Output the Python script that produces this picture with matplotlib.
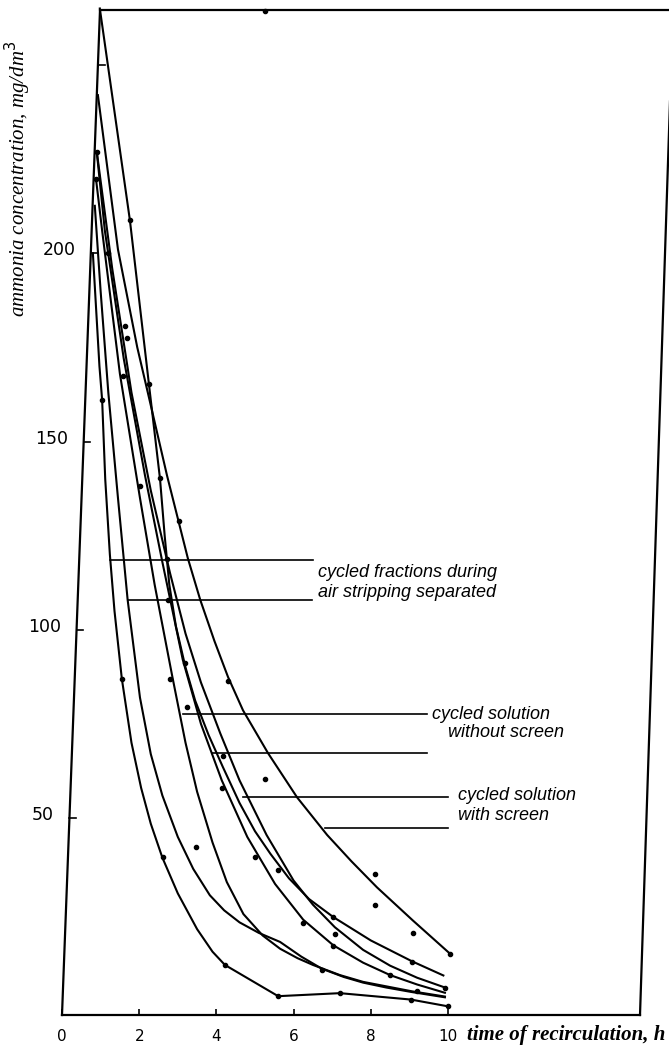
import matplotlib
matplotlib.use('Agg')
import matplotlib.pyplot as plt
import matplotlib.transforms as mtransforms

# curves: time of recirculation (h) vs ammonia (mg/dm3)
x_curve = [0.93, 1.45, 1.95, 2.28, 2.72, 3.26, 3.58, 3.95, 4.30, 4.69, 5.34, 6.09, 6.87, 7.50, 8.16, 9.09, 10.05]
y_curve = [242, 201, 175, 160.5, 141, 119, 108, 97, 87.5, 78.6, 67.2, 55.5, 45.5, 38.5, 31.6, 22.8, 14.0]

a_t = [0.98, 1.76, 2.25, 2.54, 2.66, 2.78, 2.95, 3.20, 3.45, 3.80, 4.17, 4.60, 5.00, 5.40, 5.88, 6.40, 7.03, 8.00, 9.06, 9.88]
a_y = [265, 208.7, 165.4, 140, 125, 112, 101, 90, 81.2, 72, 63.5, 54, 46.5, 40.5, 34, 28.5, 23.7, 17.5, 12.0, 8.2]

c_t = [0.90, 1.30, 1.80, 2.30, 2.80, 3.20, 3.60, 4.10, 4.60, 5.30, 6.00, 6.50, 7.07, 7.80, 8.50, 9.20, 9.92]
c_y = [227, 196, 163, 137, 115, 99, 86, 72.5, 60, 45.5, 33.4, 27, 21, 15, 10.8, 7.6, 5.0]

d_t = [0.90, 1.11, 1.60, 2.15, 2.60, 3.13, 3.60, 4.14, 4.80, 5.52, 6.25, 7.03, 7.80, 8.50, 9.20, 9.92]
d_y = [227, 206, 172, 141, 118, 92, 75, 60, 45, 32.5, 23, 16.2, 11.6, 8.3, 5.8, 3.6]

e2_t = [0.88, 1.04, 1.50, 2.02, 2.40, 2.85, 3.20, 3.50, 3.90, 4.27, 4.70, 5.20, 5.65, 6.10, 6.50, 7.20, 7.80, 9.06, 9.92]
e2_y = [219.8, 206, 168, 135, 112, 88, 70, 57, 43.5, 33, 24.5, 18.8, 15.3, 12.8, 11.0, 8.3, 6.5, 4.0, 2.6]

h_t = [0.85, 1.00, 1.20, 1.45, 1.70, 2.02, 2.30, 2.60, 3.00, 3.40, 3.83, 4.20, 4.60, 5.10, 5.65, 6.20, 6.73, 7.30, 7.80, 8.40, 9.06, 9.92]
h_y = [212.6, 190, 163, 135, 108, 82, 67, 56, 45, 36.5, 29.5, 25.5, 22.3, 19.5, 17.1, 13.2, 10.0, 7.8, 6.3, 5.0, 3.8, 2.4]

g_t = [0.80, 0.97, 1.04, 1.12, 1.24, 1.36, 1.55, 1.80, 2.05, 2.30, 2.60, 3.00, 3.50, 3.90, 4.22, 5.60, 7.20, 9.04, 10.0]
g_y = [200, 170, 161, 140, 120, 105, 87, 70, 58, 48.5, 39.5, 30, 20.5, 14.5, 11, 2.7, 3.5, 1.8, 0]

curves = [(x_curve, y_curve), (a_t, a_y), (c_t, c_y), (d_t, d_y),
          (e2_t, e2_y), (h_t, h_y), (g_t, g_y)]

# measured points (dots)
dot_t = [1.04, 1.55, 2.62, 4.22, 5.60, 7.20, 9.04, 10.0, 1.76, 2.25, 2.54,
         3.03, 4.30, 10.05, 8.11, 8.11, 9.10, 5.26, 3.47, 5.0, 5.6,
         1.63, 1.68, 1.58, 1.19, 2.02, 2.72, 2.75, 3.19, 2.80, 3.24,
         4.17, 4.14, 7.03, 6.25, 7.07, 7.03, 8.50, 6.73, 9.06, 9.19, 9.92,
         0.90, 0.88, 5.26]
dot_y = [161, 87, 39.6, 11, 2.7, 3.5, 1.8, 0, 208.7, 165.4, 140.2,
         129, 86.5, 14.0, 35.2, 26.8, 19.5, 60.3, 42.2, 39.6, 36.1,
         180.8, 177.6, 167.5, 200, 138.3, 118.7, 107.8, 91.3, 87, 79.4,
         66.6, 57.9, 23.7, 22.0, 19.3, 15.9, 8.2, 9.7, 11.8, 4.1, 5.0,
         227, 219.8, 264.4]

y_ticks = [50, 100, 150, 200, 250]
y_ticklabels = ['50', '100', '150', '200', '']
x_ticks = [0, 2, 4, 6, 8, 10]

fig = plt.figure(figsize=(6.69, 10.47), dpi=100)
ax = fig.add_axes([62/669, 32/1047, 607/669, 1005/1047])
ax.set_xlim(0, 607/38.6)
ax.set_ylim(-2.3, 264.6)

for t, y in curves:
    ax.plot(t, y, color='black', lw=1.5, solid_joinstyle='round', clip_on=False)
ax.scatter(dot_t, dot_y, s=9, color='black', zorder=3, clip_on=False)

# skewed frame of the scanned figure
for side in ['left', 'right']:
    ax.spines[side].set_visible(False)
ax.spines['bottom'].set_bounds(0, (640-62)/38.6)
ax.spines['top'].set_bounds(0.98, 607/38.6)
ax.spines['bottom'].set_linewidth(1.6)
ax.spines['top'].set_linewidth(1.6)
slant = 38/607
ax.plot([0, slant], [0, 1], color='black', lw=1.6, transform=ax.transAxes, clip_on=False)
ax.plot([578/607, 611/607], [0, 1], color='black', lw=1.6, transform=ax.transAxes, clip_on=False)

# y ticks along the slanted left edge
ylo, yhi = ax.get_ylim()
trans = mtransforms.blended_transform_factory(ax.transAxes, ax.transData)
for v, lab in zip(y_ticks, y_ticklabels):
    xa = slant*(v - ylo)/(yhi - ylo)
    ax.plot([xa, xa + 0.011], [v, v], color='black', lw=1.2, transform=trans, clip_on=False)
    ax.annotate(lab, xy=(xa, v), xycoords=trans, xytext=(-11, 2), textcoords='offset points',
                ha='right', va='center', fontsize=12.5, family='DejaVu Sans')
ax.set_yticks([])

ax.set_xticks(x_ticks)
ax.set_xticklabels([str(v) for v in x_ticks], fontsize=11, family='DejaVu Sans')
ax.tick_params(axis='x', direction='in', length=4, width=1.2, pad=10)

# leader lines and labels
leaders = [(1.24, 6.50, 118.5), (1.71, 6.48, 107.9), (3.13, 9.46, 77.6),
           (3.89, 9.46, 67.4), (4.69, 10.0, 55.7), (6.81, 10.0, 47.4)]
for x0, x1, yy in leaders:
    ax.plot([x0, x1], [yy, yy], color='black', lw=1.2)

lab_font = dict(family='Liberation Sans', style='italic', fontsize=13, ha='left', va='center')
ax.text(6.63, 115.1, 'cycled fractions during', **lab_font)
ax.text(6.63, 109.8, 'air stripping separated', **lab_font)
ax.text(9.59, 77.6, 'cycled solution', **lab_font)
ax.text(10.0, 72.6, 'without screen', **lab_font)
ax.text(10.26, 56.1, 'cycled solution', **lab_font)
ax.text(10.26, 50.8, 'with screen', **lab_font)

fig.text(467/669, 12/1047, 'time of recirculation, h', family='Liberation Serif',
         style='italic', weight='bold', fontsize=15, ha='left', va='center')
fig.text(18/669, 1 - 179/1047, 'ammonia concentration, mg/dm$^3$', family='Liberation Serif',
         style='italic', fontsize=15, rotation=90, ha='center', va='center')

fig.savefig('out.png', dpi=100, facecolor='white')
